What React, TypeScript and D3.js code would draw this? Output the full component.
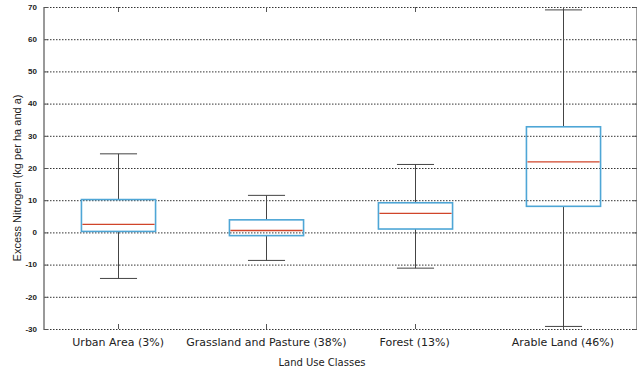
import React, { useEffect, useRef } from "react";
import * as d3 from "d3";

const categories = [
  "Urban Area (3%)",
  "Grassland and Pasture (38%)",
  "Forest (13%)",
  "Arable Land (46%)",
];
const lowerWhisker = [-14.3, -8.7, -11.1, -29.2];
const q1 = [0.3, -1.0, 1.05, 8.1];
const median = [2.5, 0.6, 5.9, 21.9];
const q3 = [10.2, 3.9, 9.2, 32.8];
const upperWhisker = [24.4, 11.5, 21.1, 69.1];
const yTicks = [70, 60, 50, 40, 30, 20, 10, 0, -10, -20, -30];

const W = 639;
const H = 371;

export default function App() {
  const svgRef = useRef<SVGSVGElement>(null);

  useEffect(() => {
    const svg = d3.select(svgRef.current);
    svg.selectAll("*").remove();

    const left = 44, right = 637, top = 7, bottom = 329;
    const x = d3.scaleLinear().domain([0.5, 4.5]).range([left, right]);
    const y = d3.scaleLinear().domain([-30, 70]).range([bottom, top]);
    const boxW = x(1.25) - x(1);
    const capW = x(1.125) - x(1);

    svg.append("rect")
      .attr("width", W).attr("height", H).attr("fill", "#fff");

    // grid
    svg.append("g")
      .selectAll("line")
      .data(yTicks)
      .join("line")
      .attr("x1", left).attr("x2", right)
      .attr("y1", (d) => y(d) + 0.5).attr("y2", (d) => y(d) + 0.5)
      .attr("stroke", "#333")
      .attr("stroke-width", 1)
      .attr("stroke-dasharray", "1.5,1.5");

    // frame
    svg.append("line")
      .attr("x1", right - 0.5).attr("x2", right - 0.5)
      .attr("y1", top).attr("y2", bottom + 1)
      .attr("stroke", "#999").attr("stroke-width", 1);
    svg.append("line")
      .attr("x1", left).attr("x2", left)
      .attr("y1", top).attr("y2", bottom + 1)
      .attr("stroke", "#999").attr("stroke-width", 2);

    // ticks
    const tk = svg.append("g").attr("stroke", "#555").attr("stroke-width", 1);
    yTicks.forEach((t) => {
      tk.append("line").attr("x1", left).attr("x2", left + 4)
        .attr("y1", y(t) + 0.5).attr("y2", y(t) + 0.5);
      tk.append("line").attr("x1", right - 4).attr("x2", right)
        .attr("y1", y(t) + 0.5).attr("y2", y(t) + 0.5);
    });
    categories.forEach((_, i) => {
      const cx = Math.round(x(i + 1)) + 0.5;
      tk.append("line").attr("x1", cx).attr("x2", cx)
        .attr("y1", bottom).attr("y2", bottom - 5);
      tk.append("line").attr("x1", cx).attr("x2", cx)
        .attr("y1", top).attr("y2", top + 5);
    });

    // y tick labels
    svg.append("g")
      .selectAll("text")
      .data(yTicks)
      .join("text")
      .attr("x", left - 7)
      .attr("y", (d) => y(d))
      .attr("dy", "0.35em")
      .attr("text-anchor", "end")
      .attr("font-family", "Liberation Sans, Arial, sans-serif")
      .attr("font-weight", "bold")
      .attr("font-size", 8)
      .attr("fill", "#222")
      .text((d) => d);

    // boxes
    const g = svg.append("g");
    categories.forEach((_, i) => {
      const cx = Math.round(x(i + 1)) + 0.5;
      g.append("line").attr("x1", cx).attr("x2", cx)
        .attr("y1", y(upperWhisker[i])).attr("y2", y(q3[i]))
        .attr("stroke", "#444").attr("stroke-width", 1);
      g.append("line").attr("x1", cx).attr("x2", cx)
        .attr("y1", y(q1[i])).attr("y2", y(lowerWhisker[i]))
        .attr("stroke", "#444").attr("stroke-width", 1);
      [upperWhisker[i], lowerWhisker[i]].forEach((v) => {
        g.append("line").attr("x1", cx - capW).attr("x2", cx + capW)
          .attr("y1", y(v)).attr("y2", y(v))
          .attr("stroke", "#444").attr("stroke-width", 1);
      });
      g.append("rect")
        .attr("x", cx - boxW).attr("width", boxW * 2)
        .attr("y", y(q3[i])).attr("height", y(q1[i]) - y(q3[i]))
        .attr("fill", "none")
        .attr("stroke", "#4ea6d6").attr("stroke-width", 1.6);
      g.append("line").attr("x1", cx - boxW + 1).attr("x2", cx + boxW - 1)
        .attr("y1", y(median[i])).attr("y2", y(median[i]))
        .attr("stroke", "#d0452a").attr("stroke-width", 1.4);
    });

    // x labels
    svg.append("g")
      .selectAll("text")
      .data(categories)
      .join("text")
      .attr("x", (_, i) => x(i + 1))
      .attr("y", 345.5)
      .attr("text-anchor", "middle")
      .attr("font-family", "DejaVu Sans, Verdana, sans-serif")
      .attr("font-size", 11)
      .attr("fill", "#222")
      .text((d) => d);

    svg.append("text")
      .attr("x", 322)
      .attr("y", 365.5)
      .attr("text-anchor", "middle")
      .attr("font-family", "DejaVu Sans, Verdana, sans-serif")
      .attr("font-size", 10)
      .attr("fill", "#222")
      .text("Land Use Classes");

    svg.append("text")
      .attr("transform", `translate(21, 178) rotate(-90)`)
      .attr("text-anchor", "middle")
      .attr("font-family", "Liberation Sans, Arial, sans-serif")
      .attr("font-size", 11)
      .attr("fill", "#222")
      .text("Excess Nitrogen (kg per ha and a)");
  }, []);

  return (
    <svg
      ref={svgRef}
      width={W}
      height={H}
      style={{ position: "absolute", left: 0, top: 0, display: "block" }}
    />
  );
}
